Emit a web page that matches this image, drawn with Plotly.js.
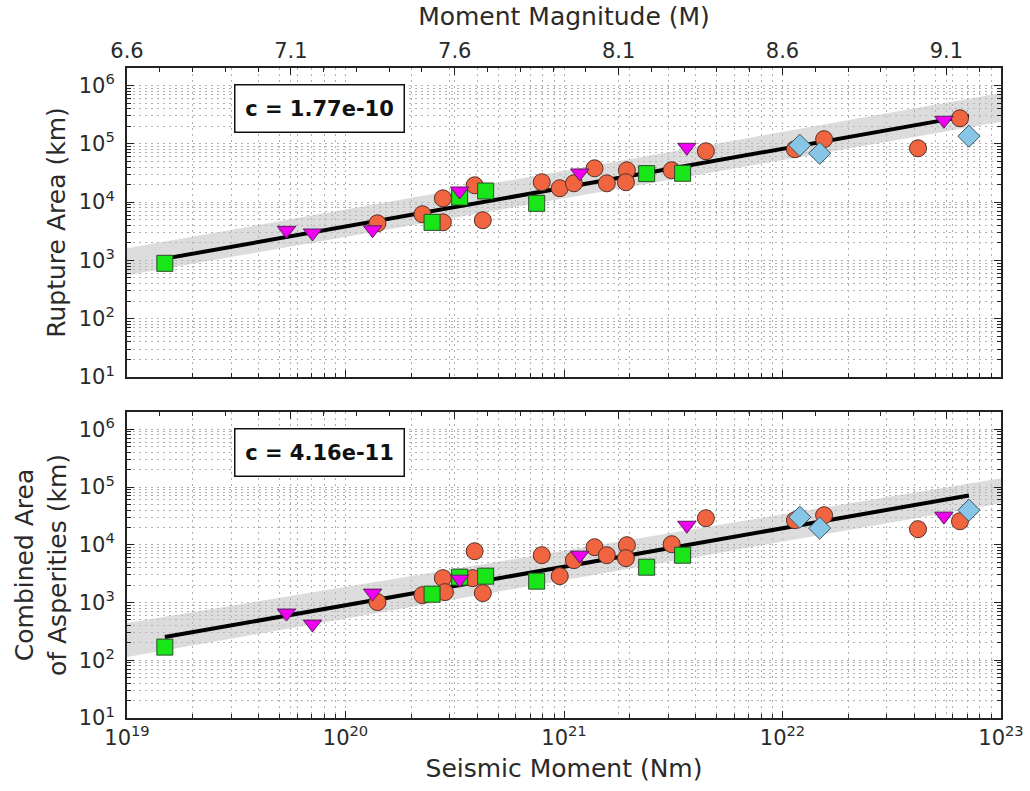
<!DOCTYPE html>
<html>
<head>
<meta charset="utf-8">
<script src="https://cdn.plot.ly/plotly-3.0.1.min.js"></script>
<style>html,body{margin:0;padding:0;background:#fff;}#chart{width:1030px;height:791px;}</style>
</head>
<body>
<div id="chart"></div>
<script>
// ---------- data ----------
const cTop = 1.77e-10;
const cBot = 4.16e-11;
const cTopLabel = 'c = 1.77e-10';
const cBotLabel = 'c = 4.16e-11';

// Top panel: Rupture Area
const circlesTopX = [1.40e20, 2.25e20, 2.79e20, 2.79e20, 3.90e20, 4.25e20, 7.91e20, 9.56e20, 1.11e21, 1.38e21, 1.57e21, 1.94e21, 1.92e21, 3.11e21, 4.46e21, 1.14e22, 1.55e22, 4.17e22, 6.49e22];
const circlesTopY = [4330, 6180, 11600, 4500, 19400, 4880, 21900, 17300, 21000, 38000, 21000, 35100, 21900, 35100, 74500, 80600, 120000, 83700, 274000];
const squaresTopX = [1.49e19, 2.49e20, 3.33e20, 4.38e20, 7.50e20, 2.39e21, 3.49e21];
const squaresTopY = [891, 4498, 12200, 15500, 9530, 30800, 31200];
const trianglesTopX = [5.37e19, 7.06e19, 1.33e20, 3.33e20, 1.18e21, 3.65e21, 5.48e22];
const trianglesTopY = [3280, 2950, 3350, 15500, 31600, 87100, 253000];
const diamondsTopX = [1.20e22, 1.48e22, 7.13e22];
const diamondsTopY = [94200, 68700, 135000];

// Bottom panel: Combined Area of Asperities
const circlesBotX = [1.40e20, 2.25e20, 2.79e20, 2.85e20, 3.90e20, 4.25e20, 3.82e20, 7.91e20, 9.56e20, 1.11e21, 1.38e21, 1.57e21, 1.94e21, 1.92e21, 3.11e21, 4.46e21, 1.14e22, 1.55e22, 4.17e22, 6.49e22];
const circlesBotY = [1016, 1342, 2643, 1514, 7740, 1455, 2643, 6600, 2860, 5420, 9080, 6600, 9840, 5860, 10230, 28840, 26670, 32500, 18620, 25590];
const squaresBotX = [1.49e19, 2.49e20, 3.33e20, 4.38e20, 7.50e20, 2.39e21, 3.49e21];
const squaresBotY = [169, 1396, 2750, 2860, 2345, 4090, 6600];
const trianglesBotX = [5.37e19, 7.06e19, 1.33e20, 3.33e20, 1.18e21, 3.65e21, 5.48e22];
const trianglesBotY = [656, 423, 1455, 2540, 6600, 21800, 31300];
const diamondsBotX = [1.20e22, 1.48e22, 7.13e22];
const diamondsBotY = [30100, 19400, 39700];

// Uncertainty band edges (at the x-axis ends)
const bandX = [1e19, 1e23];
const bandTopUpper = [1610, 7.4e5];
const bandTopLower = [555, 2.4e5];
const bandBotUpper = [440, 1.42e5];
const bandBotLower = [114, 5.25e4];

// Tick labels
const xTickVals = [1e19, 1e20, 1e21, 1e22, 1e23];
const xTickText = ['10<sup>19</sup>', '10<sup>20</sup>', '10<sup>21</sup>', '10<sup>22</sup>', '10<sup>23</sup>'];
const yTickVals = [1e1, 1e2, 1e3, 1e4, 1e5, 1e6];
const yTickText = ['10<sup>1</sup>', '10<sup>2</sup>', '10<sup>3</sup>', '10<sup>4</sup>', '10<sup>5</sup>', '10<sup>6</sup>'];
const magTicks = [6.6, 7.1, 7.6, 8.1, 8.6, 9.1];
const magLabels = ['6.6', '7.1', '7.6', '8.1', '8.6', '9.1'];

// ---------- helpers ----------
const FONT = 'DejaVu Sans, sans-serif';
const TXT = '#2a2a2a';
const allX = [].concat(circlesTopX, squaresTopX, trianglesTopX, diamondsTopX);
const xMin = Math.min.apply(null, allX), xMax = Math.max.apply(null, allX);
const fitX = [xMin, xMax];
const fitTop = fitX.map(x => cTop * Math.pow(x, 2/3));
const fitBot = fitX.map(x => cBot * Math.pow(x, 2/3));
const magRange = [6.6, 6.6 + 4 / 1.5];

function minorLog(lo, hi) {
  const v = [];
  for (let e = lo; e < hi; e++) for (let d = 2; d <= 9; d++) v.push(d * Math.pow(10, e));
  return v;
}
const minorX = minorLog(19, 23);
const minorY = minorLog(1, 7);

const mk = {
  circle: {symbol: 'circle', size: 17, color: '#f0643f', line: {color: '#55302a', width: 1}},
  square: {symbol: 'square', size: 16, color: '#19e619', line: {color: '#2a4a2a', width: 1}},
  tri: {symbol: 'triangle-down', size: 16, color: '#f000f0', line: {color: '#5a205a', width: 1}},
  dia: {symbol: 'diamond', size: 17, color: '#87c6e6', line: {color: '#3d5560', width: 1}}
};

function panel(xa, ya, circX, circY, sqX, sqY, trX, trY, diX, diY, bUp, bLo, fit) {
  return [
    {x: bandX, y: bLo, xaxis: xa, yaxis: ya, mode: 'lines', line: {width: 0, color: 'rgba(0,0,0,0)'}, hoverinfo: 'skip', showlegend: false},
    {x: bandX, y: bUp, xaxis: xa, yaxis: ya, mode: 'lines', line: {width: 0, color: 'rgba(0,0,0,0)'}, fill: 'tonexty', fillcolor: 'rgba(185,185,185,0.5)', hoverinfo: 'skip', showlegend: false},
    {x: fitX, y: fit, xaxis: xa, yaxis: ya, mode: 'lines', line: {color: '#000', width: 4}, showlegend: false},
    {x: circX, y: circY, xaxis: xa, yaxis: ya, mode: 'markers', marker: mk.circle, showlegend: false},
    {x: sqX, y: sqY, xaxis: xa, yaxis: ya, mode: 'markers', marker: mk.square, showlegend: false},
    {x: trX, y: trY, xaxis: xa, yaxis: ya, mode: 'markers', marker: mk.tri, showlegend: false},
    {x: diX, y: diY, xaxis: xa, yaxis: ya, mode: 'markers', marker: mk.dia, showlegend: false}
  ];
}

const data = [].concat(
  panel('x', 'y', circlesTopX, circlesTopY, squaresTopX, squaresTopY, trianglesTopX, trianglesTopY, diamondsTopX, diamondsTopY, bandTopUpper, bandTopLower, fitTop),
  panel('x2', 'y2', circlesBotX, circlesBotY, squaresBotX, squaresBotY, trianglesBotX, trianglesBotY, diamondsBotX, diamondsBotY, bandBotUpper, bandBotLower, fitBot),
  // invisible anchors so the magnitude axes are drawn
  [{x: magRange, y: [1e3, 1e3], xaxis: 'x3', yaxis: 'y', mode: 'markers', marker: {opacity: 0}, hoverinfo: 'skip', showlegend: false},
   {x: magRange, y: [1e3, 1e3], xaxis: 'x4', yaxis: 'y2', mode: 'markers', marker: {opacity: 0}, hoverinfo: 'skip', showlegend: false}]
);

const GRID = '#b0b0b0';
const DASH = '2px,4px';
const tickFont = {family: FONT, size: 21, color: TXT};

function logX(extra) {
  return Object.assign({
    type: 'log', range: [19, 23], tickmode: 'array', tickvals: xTickVals, ticktext: xTickText,
    ticks: 'inside', ticklen: 7, tickcolor: '#222', tickwidth: 1,
    showline: true, linecolor: '#222', linewidth: 2, mirror: false,
    showgrid: true, gridcolor: GRID, griddash: DASH, gridwidth: 1,
    zeroline: false, tickfont: tickFont,
    minor: {tickmode: 'array', tickvals: minorX, ticks: 'inside', ticklen: 4, tickcolor: '#222', showgrid: true, gridcolor: GRID, griddash: DASH, gridwidth: 1}
  }, extra);
}
function logY(extra) {
  return Object.assign({
    type: 'log', range: [1, 6.3], tickmode: 'array', tickvals: yTickVals, ticktext: yTickText,
    ticks: 'inside', ticklen: 7, tickcolor: '#222', tickwidth: 1,
    showline: true, linecolor: '#222', linewidth: 2, mirror: 'ticks',
    showgrid: true, gridcolor: GRID, griddash: DASH, gridwidth: 1,
    zeroline: false, tickfont: tickFont, ticklabelstandoff: 6,
    minor: {tickmode: 'array', tickvals: minorY, ticks: 'inside', ticklen: 4, tickcolor: '#222', showgrid: true, gridcolor: GRID, griddash: DASH, gridwidth: 1}
  }, extra);
}
function magAxis(extra) {
  return Object.assign({
    range: magRange, side: 'top',
    tickmode: 'array', tickvals: magTicks, ticktext: magLabels,
    ticks: 'inside', ticklen: 7, tickcolor: '#222',
    showline: true, linecolor: '#222', linewidth: 2,
    showgrid: true, gridcolor: GRID, griddash: DASH, gridwidth: 1,
    zeroline: false, tickfont: tickFont,
    minor: {dtick: 0.1, tick0: 6.6, ticks: 'inside', ticklen: 4, tickcolor: '#222', showgrid: false}
  }, extra);
}

const layout = {
  width: 1030, height: 791,
  margin: {l: 127, r: 29, t: 68, b: 73},
  paper_bgcolor: '#fff', plot_bgcolor: '#fff',
  font: {family: FONT, color: TXT},
  showlegend: false,
  xaxis: logX({anchor: 'y', showticklabels: false}),
  yaxis: logY({domain: [0.5246, 1], anchor: 'x', title: {text: 'Rupture Area (km)', font: {family: FONT, size: 25, color: TXT}, standoff: 6}}),
  xaxis2: logX({anchor: 'y2', title: {text: 'Seismic Moment (Nm)', font: {family: FONT, size: 25, color: TXT}, standoff: 10}}),
  yaxis2: logY({domain: [0, 0.4708], anchor: 'x2', title: {text: 'Combined Area<br>of Asperities (km)', font: {family: FONT, size: 25, color: TXT}, standoff: 5}}),
  xaxis3: magAxis({overlaying: 'x', anchor: 'y', title: {text: 'Moment Magnitude (M)', font: {family: FONT, size: 25, color: TXT}, standoff: 6}}),
  xaxis4: magAxis({overlaying: 'x2', anchor: 'y2', showticklabels: false}),
  annotations: [
    {xref: 'paper', yref: 'paper', x: 0.2197, y: 0.938, xanchor: 'center', yanchor: 'middle', text: '<b>' + cTopLabel + '</b>', showarrow: false,
     bordercolor: '#111', borderwidth: 1.5, borderpad: 1, bgcolor: '#fff', width: 166, height: 44,
     font: {family: FONT, size: 21, color: '#111'}},
    {xref: 'paper', yref: 'paper', x: 0.2197, y: 0.409, xanchor: 'center', yanchor: 'middle', text: '<b>' + cBotLabel + '</b>', showarrow: false,
     bordercolor: '#111', borderwidth: 1.5, borderpad: 1, bgcolor: '#fff', width: 166, height: 44,
     font: {family: FONT, size: 21, color: '#111'}}
  ]
};

Plotly.newPlot('chart', data, layout, {displayModeBar: false, staticPlot: true});
</script>
</body>
</html>
